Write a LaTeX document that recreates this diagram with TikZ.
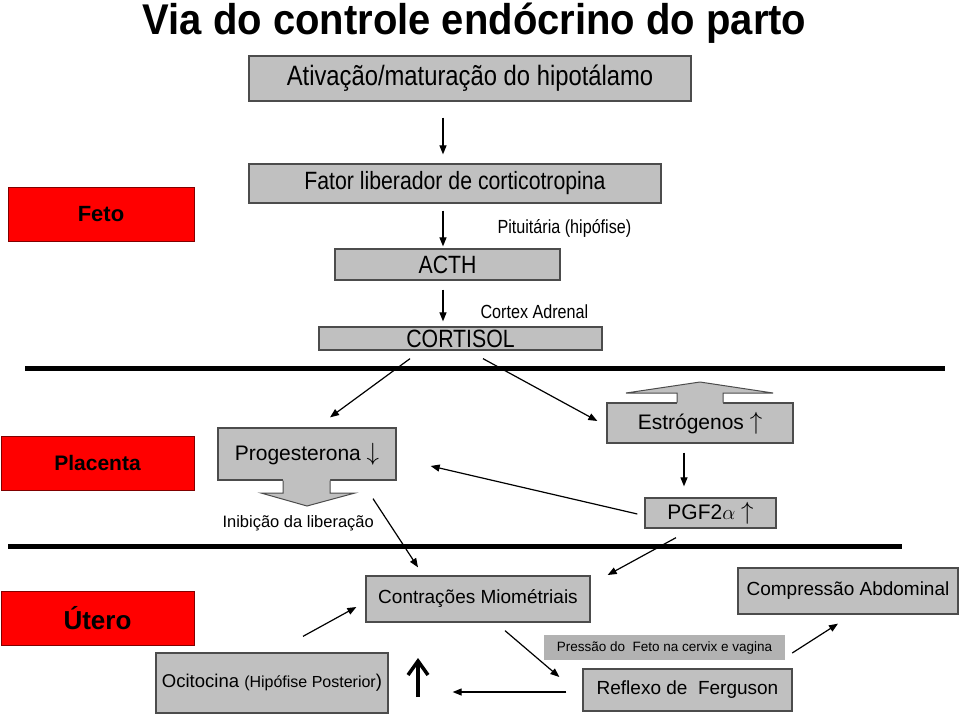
\documentclass[tikz,border=0pt]{standalone}
\usepackage{fontspec}
\setmainfont{Liberation Sans}
\newfontfamily\narrowfont[FakeStretch=0.85]{Liberation Sans}
\newfontfamily\titlefont[FakeStretch=0.93]{Liberation Sans}
\usepackage{tikz}
\usetikzlibrary{arrows.meta,calc}
\usepackage{xcolor}
\definecolor{boxgray}{RGB}{192,192,192}
\definecolor{presgray}{RGB}{178,178,178}
\newcommand{\bigup}{{\fontsize{27}{27}\selectfont\(\uparrow\)}}
\newcommand{\bigdown}{{\fontsize{27}{27}\selectfont\(\downarrow\)}}

\begin{document}
\begin{tikzpicture}[x=1pt,y=-1pt,
			box/.style={draw=black!70, line width=1.3pt, fill=boxgray, inner sep=0pt},
			redbox/.style={draw=black!50!red, line width=1pt, fill=red, inner sep=0pt},
			arr/.style={line width=1.2pt, -{Triangle[length=9pt,width=7pt]}},
			sepline/.style={line width=5pt}]
			\useasboundingbox (0,0) rectangle (960,715);
			% titulo
			\node[anchor=base, font=\titlefont\bfseries\fontsize{43}{43}\selectfont] (title) at (474.5,34) {Via do controle endócrino do parto};
			% eixo hipotalamo - cortisol
			\node[box, minimum width=442pt, minimum height=45pt, font=\narrowfont\fontsize{28}{28}\selectfont] (hipo) at (470,78.5) {Ativação/maturação do hipotálamo};
			\node[box, minimum width=412pt, minimum height=39pt, font=\narrowfont\fontsize{25}{25}\selectfont] (fator) at (455,183.5) {Fator liberador de corticotropina};
			\node[box, minimum width=225pt, minimum height=31pt, font=\narrowfont\fontsize{25}{25}\selectfont] (acth) at (447.5,264.5) {ACTH};
			\node[box, minimum width=283pt, minimum height=23pt, font=\narrowfont\fontsize{25}{25}\selectfont] (cortisol) at (460.5,338.5) {CORTISOL};
			\node[anchor=base west, font=\narrowfont\fontsize{19}{19}\selectfont] (pit) at (494,233) {Pituitária (hipófise)};
			\node[anchor=base west, font=\narrowfont\fontsize{19}{19}\selectfont] (adren) at (477,318) {Cortex Adrenal};
			\draw[arr] ($(hipo.south)+(-27,16)$) -- ($(fator.north)+(-12,-9)$);
			\draw[arr] ($(fator.south)+(-12,7)$) -- ($(acth.north)+(-4.5,-2)$);
			\draw[arr] ($(acth.south)+(-4.5,9)$) -- ($(cortisol.north)+(-17.5,-5)$);
			% orgaos
			\node[redbox, minimum width=186pt, minimum height=54pt, font=\bfseries\fontsize{22}{22}\selectfont] (feto) at (101,214) {Feto};
			\node[redbox, minimum width=193pt, minimum height=54pt, font=\bfseries\fontsize{21}{21}\selectfont] (placenta) at (97.5,463) {Placenta};
			\node[redbox, minimum width=193pt, minimum height=54pt, font=\bfseries\fontsize{26}{26}\selectfont] (utero) at (97.5,618) {Útero};
			% linhas de separacao
			\draw[sepline] (25,368) -- (945,368);
			\draw[sepline] (8,546.5) -- (902,546.5);
			% placenta
			\node[box, minimum width=178pt, minimum height=52pt, font=\fontsize{21}{21}\selectfont] (prog) at (307,454) {Progesterona \bigdown};
			\fill[boxgray] (283,479) -- (283,493) -- (261,493) -- (307,506) -- (355,493) -- (330,493) -- (330,479) -- cycle;
			\draw[black!70, line width=1pt] (283,480.5) -- (283,493) -- (261,493) -- (307,506) -- (355,493) -- (330,493) -- (330,480.5);
			\node[anchor=base west, font=\fontsize{16.5}{16.5}\selectfont] (inib) at (219,527) {Inibição da liberação};
			\node[box, minimum width=186pt, minimum height=40pt, font=\fontsize{21}{21}\selectfont] (estro) at (700,423) {Estrógenos \bigup};
			\fill[boxgray] (677,404) -- (677,393) -- (626,393) -- (700,382) -- (773,393) -- (723,393) -- (723,404) -- cycle;
			\draw[black!70, line width=1pt] (677,402.5) -- (677,393) -- (626,393) -- (700,382) -- (773,393) -- (723,393) -- (723,402.5);
			\node[box, minimum width=131pt, minimum height=30pt, font=\fontsize{21}{21}\selectfont] (pgf) at (710.5,513) {PGF2\(\alpha\) \bigup};
			\draw[arr] ($(cortisol.south)+(-50.5,8)$) -- ($(prog.north)+(23,-10)$);
			\draw[arr] ($(cortisol.south)+(22.5,8)$) -- ($(estro.west)+(-9,-2)$);
			\draw[arr] ($(estro.south)+(-16,9)$) -- ($(pgf.north)+(-26.5,-11)$);
			\draw[arr] ($(pgf.west)+(-7,1)$) -- ($(prog.east)+(34,12)$);
			% utero
			\node[box, minimum width=224pt, minimum height=46pt, font=\fontsize{19}{19}\selectfont] (contr) at (478,599) {Contrações Miométriais};
			\node[box, minimum width=220pt, minimum height=46pt, font=\fontsize{19}{19}\selectfont] (compr) at (848,591) {Compressão Abdominal};
			\node[fill=presgray, minimum width=241pt, minimum height=25pt, inner sep=0pt, font=\fontsize{13.5}{13.5}\selectfont] (pres) at (664.5,647.5) {Pressão do~ Feto na cervix e vagina};
			\node[box, minimum width=209pt, minimum height=42pt, font=\fontsize{19}{19}\selectfont] (reflexo) at (687.5,690) {Reflexo de~ Ferguson};
			\node[box, minimum width=232pt, minimum height=60pt, font=\fontsize{18.5}{18.5}\selectfont] (ocito) at (272,683) {Ocitocina {\fontsize{16}{16}\selectfont(Hipófise Posterior})};
			\coordinate (upfoot) at (418,697);
			\coordinate (uptip) at (418,661);
			\draw[line width=3.5pt] (upfoot) -- ($(uptip)+(0,2)$);
			\draw[line width=3.5pt, line join=miter] ($(uptip)+(-10,14)$) -- (uptip) -- ($(uptip)+(10,14)$);
			\draw[arr] ($(prog.south)+(66,18)$) -- ($(contr.north)+(-60,-8)$);
			\draw[arr] ($(pgf.south)+(-34.5,9)$) -- ($(contr.east)+(17,-24)$);
			\draw[arr] ($(ocito.north)+(31,-16)$) -- ($(contr.west)+(-9,8)$);
			\draw[arr] ($(contr.south)+(27,8)$) -- ($(reflexo.west)+(-23,-13)$);
			\draw[arr] ($(pres.east)+(7,5.5)$) -- ($(compr.south)+(-10,9)$);
			\draw[arr] ($(reflexo.west)+(-16,2)$) -- ($(ocito.east)+(64,9)$);
		\end{tikzpicture}
\end{document}
